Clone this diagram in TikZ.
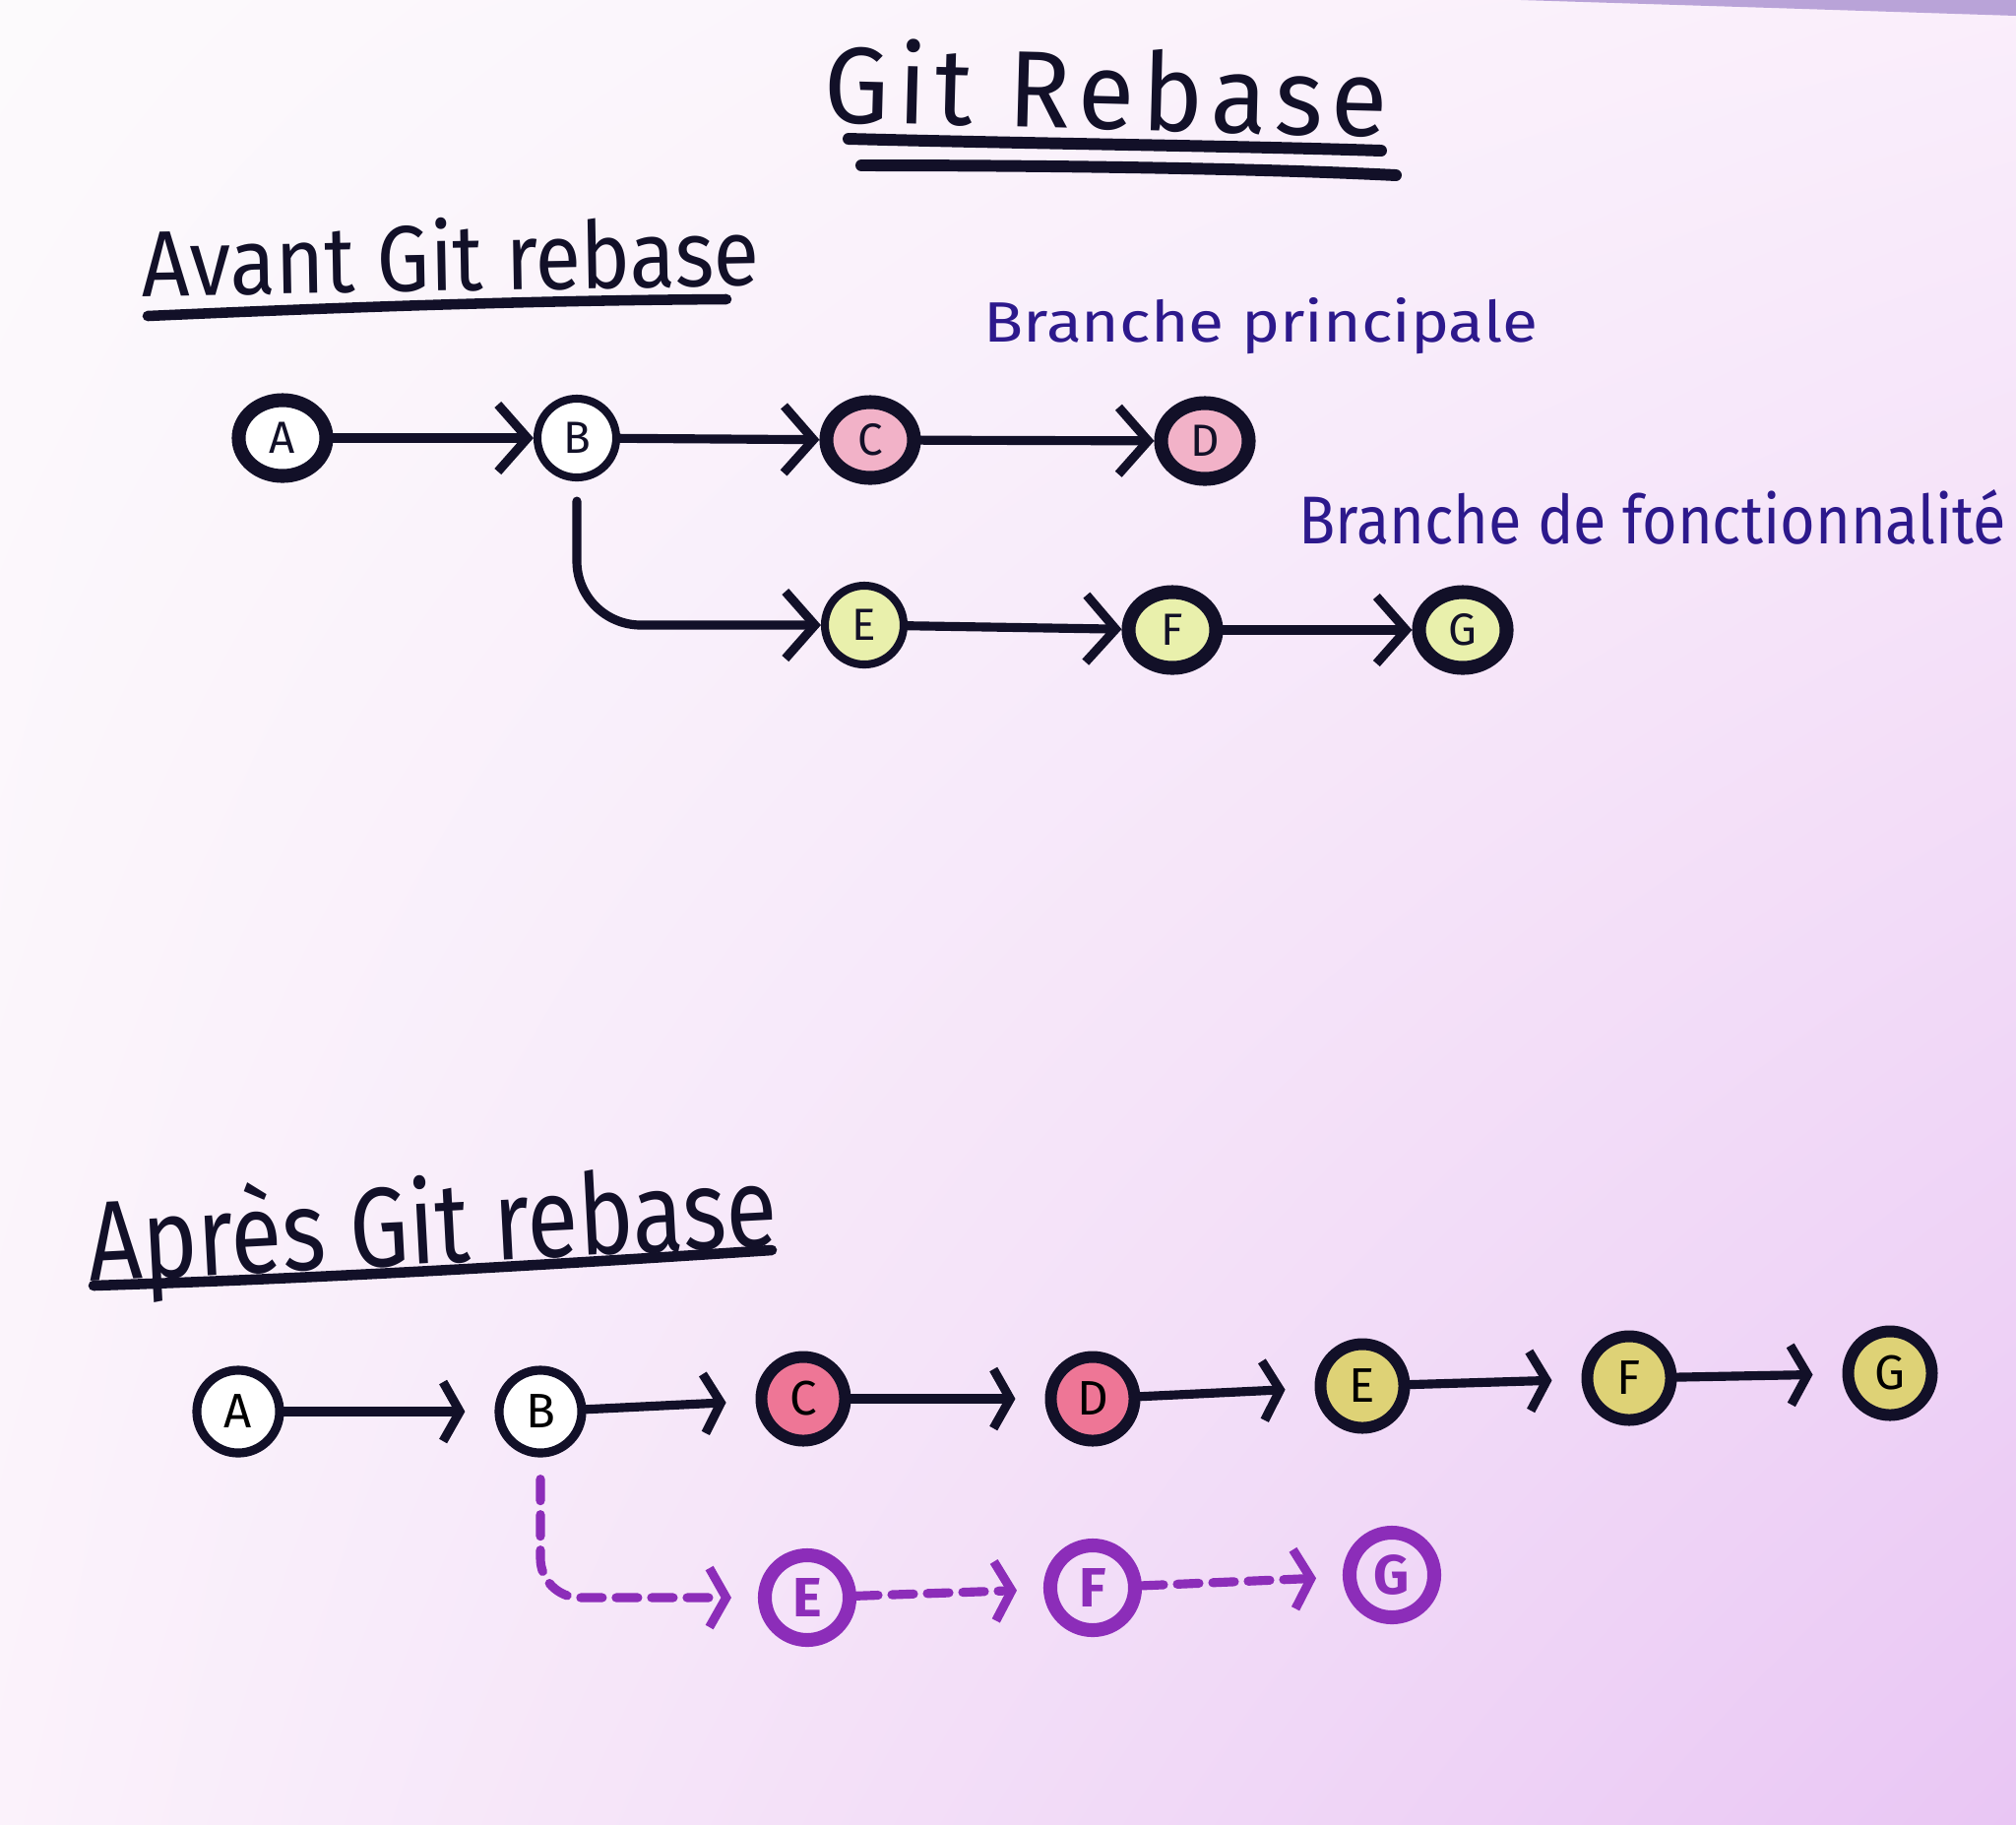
\documentclass[tikz,border=0pt]{standalone}
\usepackage{fontspec}
\setmainfont{Fira Sans}
\usepackage{graphicx}
\usetikzlibrary{arrows.meta,shapes.geometric,shadings}
\definecolor{ink}{RGB}{18,16,40}
\definecolor{penblue}{RGB}{45,25,140}
\definecolor{pinkA}{RGB}{242,178,200}
\definecolor{greenA}{RGB}{233,240,172}
\definecolor{pinkB}{RGB}{238,118,150}
\definecolor{yellowB}{RGB}{222,210,118}
\definecolor{ghostviolet}{RGB}{140,45,185}
\definecolor{bgTL}{RGB}{252,250,252}
\definecolor{bgTR}{RGB}{250,238,251}
\definecolor{bgBL}{RGB}{251,242,251}
\definecolor{bgBR}{RGB}{233,198,244}
\definecolor{stripcol}{RGB}{185,163,216}
\begin{document}
\begin{tikzpicture}[x=0.01cm,y=-0.01cm,line cap=round,line join=round,
  commit/.style={ellipse,draw=ink,line width=4pt,minimum width=0.89cm,minimum height=0.77cm,inner sep=0pt,
    font=\fontsize{13}{13}\selectfont,text=ink,fill=white},
  thincommit/.style={commit,line width=2.3pt,minimum width=0.80cm,minimum height=0.80cm},
  lowcommit/.style={circle,draw=ink,line width=3.4pt,minimum size=0.85cm,inner sep=0pt,
    font=\fontsize{14}{14}\selectfont,text=black,fill=white},
  lowthin/.style={lowcommit,line width=2.6pt,minimum size=0.84cm},
  ghost/.style={circle,draw=ghostviolet,line width=4pt,minimum size=0.86cm,inner sep=0pt,
    font=\bfseries\fontsize{16}{16}\selectfont,text=ghostviolet},
  link/.style={draw=ink,line width=2.6pt,-{Straight Barb[length=0.3cm,width=0.68cm]}},
  lowlink/.style={draw=ink,line width=2.6pt,shorten >=0.3cm,-{Straight Barb[length=0.17cm,width=0.6cm]}},
  dlink/.style={draw=ghostviolet,line width=2.6pt,dash pattern=on 0.22cm off 0.14cm,shorten >=0.27cm,
    -{Straight Barb[length=0.17cm,width=0.6cm]}},
  uline/.style={draw=ink,line width=3pt},
  heading/.style={inner sep=0pt,text=ink}
]
\useasboundingbox (0,0) rectangle (2048,1853);
\shade[upper left=bgTL,upper right=bgTR,lower left=bgBL,lower right=bgBR] (0,0) rectangle (2048,1853);
\fill[stripcol] (1545,0) -- (2048,0) -- (2048,16) -- (1800,8) -- cycle;

% Title
\node[heading,anchor=base west,rotate=-1.5] (title) at (836,124) {\resizebox{5.72cm}{0.86cm}{\addfontfeature{LetterSpace=8}Git Rebase}};
\draw[uline,line width=3.4pt] (862,141) .. controls (1050,146) and (1250,148) .. (1403,153);
\draw[uline,line width=3.4pt] (875,168) .. controls (1100,168) and (1300,172) .. (1418,178);

% Avant
\node[heading,anchor=base west,rotate=1] (avant) at (144,301) {\resizebox{6.27cm}{0.74cm}{Avant Git rebase}};
\draw[uline] (150,321) .. controls (350,312) and (550,305) .. (738,304);

\node[inner sep=0pt,anchor=base west,text=penblue] (bp) at (999,347) {\resizebox{5.62cm}{0.45cm}{Branche principale}};
\node[inner sep=0pt,anchor=base west,text=penblue] (bf) at (1319,552) {\resizebox{7.18cm}{0.55cm}{Branche de fonctionnalité}};

\node[commit] (a1) at (287,445) {A};
\node[thincommit] (b1) at (586,445) {B};
\node[commit,fill=pinkA] (c1) at (884,447) {C};
\node[commit,fill=pinkA] (d1) at (1224,448) {D};
\node[thincommit,fill=greenA] (e1) at (878,635) {E};
\node[commit,fill=greenA] (f1) at (1191,640) {F};
\node[commit,fill=greenA] (g1) at (1486,640) {G};

\draw[link] (a1) -- (b1);
\draw[link] (b1) -- (c1);
\draw[link] (c1) -- (d1);
\draw[link,rounded corners=0.65cm] ([yshift=-0.2cm]b1.south) |- (e1.west);
\draw[link] (e1) -- (f1);
\draw[link] (f1) -- (g1);

% Apres
\node[heading,anchor=base west,rotate=3] (apres) at (91,1302) {\resizebox{7.0cm}{0.92cm}{Après Git rebase}};
\draw[uline] (95,1306) .. controls (350,1298) and (600,1282) .. (784,1270);

\node[lowthin] (a2) at (242,1434) {A};
\node[lowthin] (b2) at (549,1434) {B};
\node[lowcommit,fill=pinkB] (c2) at (816,1421) {C};
\node[lowcommit,fill=pinkB] (d2) at (1110,1421) {D};
\node[lowcommit,fill=yellowB] (e2) at (1384,1408) {E};
\node[lowcommit,fill=yellowB] (f2) at (1655,1400) {F};
\node[lowcommit,fill=yellowB] (g2) at (1920,1395) {G};

\draw[lowlink] (a2) -- (b2);
\draw[lowlink] (b2) -- (c2);
\draw[lowlink] (c2) -- (d2);
\draw[lowlink] (d2) -- (e2);
\draw[lowlink] (e2) -- (f2);
\draw[lowlink] (f2) -- (g2);

\node[ghost] (e3) at (820,1623) {E};
\node[ghost] (f3) at (1110,1613) {F};
\node[ghost] (g3) at (1414,1600) {G};

\draw[dlink,rounded corners=0.4cm] ([yshift=-0.22cm]b2.south) |- (e3.west);
\draw[dlink] (e3) -- (f3);
\draw[dlink] (f3) -- (g3);
\end{tikzpicture}
\end{document}
